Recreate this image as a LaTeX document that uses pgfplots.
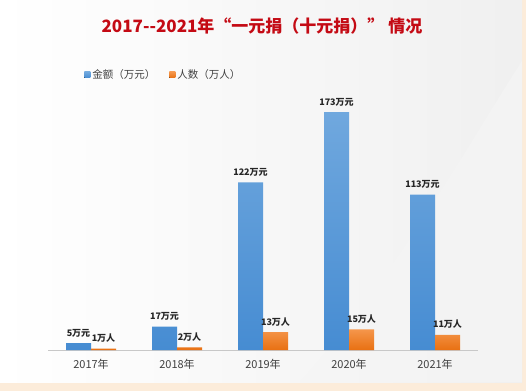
\documentclass[border=0pt]{standalone}
\usepackage{fontspec}
\setmainfont{Noto Sans CJK SC}
\usepackage{pgfplots}
\pgfplotsset{compat=1.18}
\definecolor{peach}{RGB}{252,236,218}
\definecolor{titlered}{RGB}{196,10,20}
\definecolor{txtgray}{RGB}{64,64,64}
\definecolor{bluetop}{RGB}{112,168,222}
\definecolor{bluebot}{RGB}{70,140,210}
\definecolor{orgtop}{RGB}{245,150,75}
\definecolor{orgbot}{RGB}{232,112,18}
\definecolor{axgray}{RGB}{200,200,200}
\begin{document}
\begin{tikzpicture}
\fill[peach] (0,0) rectangle (526pt,391pt);
\shade[left color=white, right color=white!94!black] (0,9pt) rectangle (522pt,390pt);
\fill[white!96!black, opacity=0.6] (300pt,9pt) .. controls (400pt,120pt) and (470pt,250pt) .. (522pt,330pt) -- (522pt,9pt) -- cycle;
\node[font=\fontsize{17}{20}\selectfont\bfseries, text=titlered] at (262pt,365pt) {2017-{}-2021年“一元捐（十元捐）” 情况};
\begin{axis}[
  at={(48pt,41pt)}, anchor=south west,
  scale only axis, width=430pt, height=275pt,
  ybar=0pt, bar width=25pt,
  xmin=-0.5, xmax=4.5, ymin=0, ymax=200,
  axis x line=bottom, axis line style={axgray, -},
  hide y axis,
  xtick={0,1,2,3,4},
  xticklabels={2017年,2018年,2019年,2020年,2021年},
  major tick length=0pt,
  xticklabel style={font=\fontsize{11}{13}\selectfont, text=txtgray, yshift=-6pt},
  legend columns=2,
  legend style={at={(0.077,1)}, anchor=west, draw=none, fill=none,
    font=\fontsize{10.5}{12}\selectfont, text=txtgray,
    /tikz/every even column/.append style={column sep=12pt}},
  legend image code/.code={\fill[#1, draw=none] (0pt,-3pt) rectangle (6pt,3pt);},
  nodes near coords style={font=\fontsize{9}{11}\selectfont\bfseries, text=black!85, yshift=2.5pt},
  clip=false,
]
\addplot[draw=none, top color=bluetop, bottom color=bluebot,
  nodes near coords={\pgfmathprintnumber[assume math mode=true]{\pgfplotspointmeta}万元}]
  coordinates {(0,5) (1,17) (2,122) (3,173) (4,113)};
\addplot[draw=none, top color=orgtop, bottom color=orgbot,
  nodes near coords={\pgfmathprintnumber[assume math mode=true]{\pgfplotspointmeta}万人}]
  coordinates {(0,1) (1,2) (2,13) (3,15) (4,11)};
\legend{金额（万元）,人数（万人）}
\end{axis}
\pgfresetboundingbox
\useasboundingbox (0,0) rectangle (526pt,391pt);
\end{tikzpicture}
\end{document}
